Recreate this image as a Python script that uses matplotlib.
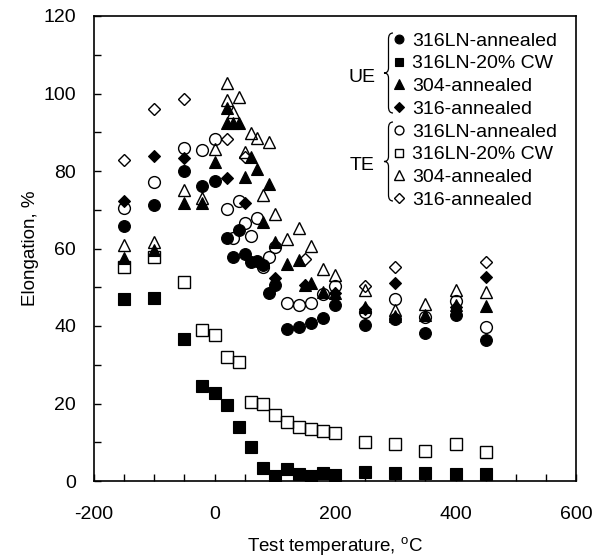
import matplotlib
matplotlib.use("Agg")
import matplotlib.pyplot as plt
from matplotlib.path import Path
from matplotlib.patches import PathPatch
from matplotlib.ticker import MultipleLocator

plt.rcParams['font.family'] = ['Liberation Sans', 'DejaVu Sans']
plt.rcParams['mathtext.fontset'] = 'custom'
plt.rcParams['mathtext.rm'] = 'Liberation Sans'
plt.rcParams['axes.unicode_minus'] = False

# ---- data ----
t_316LN_UE = [-150, -100, -50, -20, 0, 20, 30, 40, 50, 60, 70, 80, 90, 100, 120, 140, 160, 180, 200, 250, 300, 350, 400, 450]
v_316LN_UE = [65.9, 71.1, 80.1, 76.2, 77.5, 62.7, 57.8, 64.8, 58.7, 56.6, 56.9, 55.7, 48.4, 50.6, 39.1, 39.8, 40.7, 42.0, 45.4, 40.2, 41.7, 38.1, 42.8, 36.4]

t_316LNCW_UE = [-150, -100, -50, -20, 0, 20, 40, 60, 80, 100, 120, 140, 160, 180, 200, 250, 300, 350, 400, 450]
v_316LNCW_UE = [47.0, 47.1, 36.6, 24.6, 22.6, 19.6, 14.0, 8.7, 3.3, 1.3, 3.0, 1.8, 1.3, 2.1, 1.5, 2.2, 2.0, 2.0, 1.8, 1.8]

t_304_UE = [-150, -100, -50, -20, 0, 20, 20, 30, 40, 50, 60, 70, 80, 90, 100, 120, 140, 150, 160, 180, 200, 250, 300, 350, 400, 450]
v_304_UE = [57.5, 59.5, 71.7, 71.7, 82.4, 96.2, 92.5, 92.5, 92.5, 78.4, 83.7, 80.4, 66.9, 76.6, 61.8, 56.0, 57.0, 50.6, 51.0, 48.9, 48.4, 45.0, 42.5, 42.8, 45.4, 45.2]

t_316_UE = [-150, -100, -50, 20, 50, 100, 150, 200, 250, 300, 400, 450]
v_316_UE = [72.3, 84.0, 83.3, 78.1, 71.7, 52.3, 50.6, 48.6, 44.5, 51.2, 45.0, 52.6]

t_316LN_TE = [-150, -100, -50, -20, 0, 20, 30, 40, 50, 60, 70, 80, 90, 100, 120, 140, 160, 180, 200, 250, 300, 350, 400, 450]
v_316LN_TE = [70.5, 77.1, 86.0, 85.3, 88.3, 70.1, 62.8, 72.2, 66.5, 63.2, 67.8, 55.1, 57.9, 60.3, 45.9, 45.4, 45.9, 48.2, 50.3, 43.7, 46.9, 42.4, 46.5, 39.8]

t_316LNCW_TE = [-150, -100, -50, -20, 0, 20, 40, 60, 80, 100, 120, 140, 160, 180, 200, 250, 300, 350, 400, 450]
v_316LNCW_TE = [55.1, 57.9, 51.3, 39.0, 37.7, 31.9, 30.8, 20.5, 19.9, 17.0, 15.1, 14.0, 13.3, 12.9, 12.3, 10.1, 9.5, 7.8, 9.5, 7.6]

t_304_TE = [-150, -100, -50, -20, 0, 20, 20, 30, 40, 50, 60, 70, 80, 90, 100, 120, 140, 160, 180, 200, 250, 300, 350, 400, 450]
v_304_TE = [61.0, 61.8, 75.1, 73.0, 85.6, 102.7, 98.3, 95.3, 99.0, 85.0, 89.9, 88.4, 73.8, 87.6, 68.9, 62.4, 65.2, 60.6, 54.6, 53.2, 49.2, 44.1, 45.7, 49.3, 48.9]

t_316_TE = [-150, -100, -50, 20, 50, 150, 250, 300, 450]
v_316_TE = [82.8, 96.0, 98.6, 88.3, 83.7, 57.4, 50.3, 55.1, 56.6]

labels = ['316LN-annealed', '316LN-20% CW', '304-annealed', '316-annealed']

W, H = 592, 559
fig = plt.figure(figsize=(W / 100, H / 100), dpi=100)
ax = fig.add_axes([94 / W, 1 - 481 / H, (576 - 94) / W, (481 - 16) / H])

ms = 8.5
open_kw = dict(ls='none', mfc='none', mec='black', mew=1.0)
fill_kw = dict(ls='none', mfc='black', mec='black', mew=0.8)

# TE (open) series
h5, = ax.plot(t_316LN_TE, v_316LN_TE, marker='o', ms=ms, **open_kw)
h6, = ax.plot(t_316LNCW_TE, v_316LNCW_TE, marker='s', ms=ms - 0.5, **open_kw)
h7, = ax.plot(t_304_TE, v_304_TE, marker='^', ms=ms + 0.5, **open_kw)
h8, = ax.plot(t_316_TE, v_316_TE, marker='D', ms=6.2, **open_kw)
# UE (filled) series
h1, = ax.plot(t_316LN_UE, v_316LN_UE, marker='o', ms=ms, **fill_kw)
h2, = ax.plot(t_316LNCW_UE, v_316LNCW_UE, marker='s', ms=ms - 0.5, **fill_kw)
h3, = ax.plot(t_304_UE, v_304_UE, marker='^', ms=ms + 0.5, **fill_kw)
h4, = ax.plot(t_316_UE, v_316_UE, marker='D', ms=6.2, **fill_kw)

ax.set_xlim(-200, 600)
ax.set_ylim(0, 120)
ax.xaxis.set_major_locator(MultipleLocator(200))
ax.xaxis.set_minor_locator(MultipleLocator(50))
ax.yaxis.set_major_locator(MultipleLocator(20))
ax.yaxis.set_minor_locator(MultipleLocator(10))
ax.tick_params(which='both', direction='in', length=5, width=1.0,
               top=False, right=False)
ax.tick_params(axis='x', which='major', labelsize=14, pad=18)
ax.tick_params(axis='y', which='major', labelsize=14, pad=13)
for s in ax.spines.values():
    s.set_linewidth(1.2)

ax.set_xlabel(r'Test temperature, $^{\mathrm{o}}$C', fontsize=13.5, labelpad=9)
ax.set_ylabel('Elongation, %', fontsize=13.5, labelpad=3)

leg = ax.legend([h1, h2, h3, h4, h5, h6, h7, h8], labels + labels,
                loc='upper left', bbox_to_anchor=((393 - 94) / 482, 1 - (32 - 16) / 465),
                frameon=False, fontsize=14, markerscale=0.75,
                handlelength=0.6, handletextpad=0.38, labelspacing=0.265,
                borderpad=0, borderaxespad=0)

# group labels and braces
def brace(x_tip, y_top, y_bot, w):
    ym = (y_top + y_bot) / 2
    xr = x_tip + w
    xm = x_tip + w * 0.5
    pts = [(xr, y_top), (xm, y_top), (xm, y_top + 6),
           (xm, ym - 5), (xm, ym), (x_tip, ym),
           (xm, ym), (xm, ym + 5),
           (xm, y_bot - 6), (xm, y_bot), (xr, y_bot)]
    codes = [Path.MOVETO, Path.CURVE3, Path.CURVE3,
             Path.LINETO, Path.CURVE3, Path.CURVE3,
             Path.CURVE3, Path.CURVE3,
             Path.LINETO, Path.CURVE3, Path.CURVE3]
    verts = [(x / W, 1 - y / H) for x, y in pts]
    fig.add_artist(PathPatch(Path(verts, codes), transform=fig.transFigure,
                             fill=False, lw=0.9, ec='black'))

brace(384, 33, 113, 9)
brace(384, 122, 201, 9)
fig.text(362 / W, 1 - 77 / H, 'UE', fontsize=14, ha='center', va='center')
fig.text(362 / W, 1 - 165 / H, 'TE', fontsize=14, ha='center', va='center')

fig.savefig('out.png', dpi=100)
